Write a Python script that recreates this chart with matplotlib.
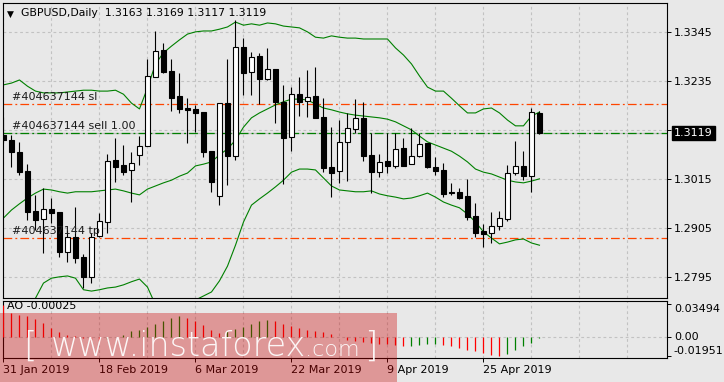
import matplotlib
matplotlib.use('Agg')
import matplotlib.pyplot as plt
from matplotlib.patches import Rectangle
from matplotlib.transforms import blended_transform_factory
import numpy as np

# ---------------- data ----------------
date_labels = ["31 Jan 2019", "18 Feb 2019", "6 Mar 2019", "22 Mar 2019", "9 Apr 2019", "25 Apr 2019"]
date_idx = [0, 12, 24, 36, 48, 60]

opens = [1.3114,1.3103,1.3076,1.3034,1.2944,1.2926,1.2948,1.2942,1.2852,1.2885,
1.2841,1.2796,1.2888,1.2919,1.3058,1.3047,1.3036,1.3070,1.3090,1.3245,
1.3305,1.3258,1.3202,1.3175,1.3173,1.3166,1.3078,1.2978,1.3186,1.3067,
1.3312,1.3256,1.3292,1.3240,1.3263,1.3189,1.3110,1.3206,1.3191,1.3202,
1.3155,1.3043,1.3034,1.3099,1.3128,1.3153,1.3070,1.3031,1.3056,1.3045,
1.3085,1.3049,1.3067,1.3096,1.3043,1.3036,1.2987,1.2987,1.2978,1.2933,
1.2899,1.2894,1.2910,1.2926,1.3029,1.3045,1.3022,1.3163]
highs = [1.3155,1.3114,1.3099,1.3049,1.2980,1.2995,1.2973,1.2942,1.2901,1.2953,
1.2847,1.2894,1.2939,1.3072,1.3108,1.3092,1.3076,1.3112,1.3285,1.3348,
1.3321,1.3285,1.3254,1.3197,1.3182,1.3166,1.3078,1.3186,1.3285,1.3372,
1.3332,1.3301,1.3299,1.3310,1.3263,1.3227,1.3222,1.3245,1.3260,1.3267,
1.3197,1.3132,1.3148,1.3164,1.3195,1.3189,1.3119,1.3072,1.3119,1.3119,
1.3108,1.3130,1.3119,1.3096,1.3065,1.3052,1.3007,1.2995,1.3016,1.2962,
1.2915,1.2942,1.2944,1.3047,1.3101,1.3078,1.3175,1.3169]
lows = [1.3096,1.3043,1.3025,1.2924,1.2901,1.2850,1.2917,1.2841,1.2829,1.2827,
1.2771,1.2782,1.2885,1.2894,1.3009,1.3025,1.2964,1.3047,1.3090,1.3245,
1.3254,1.3168,1.3164,1.3096,1.3121,1.3065,1.2987,1.2957,1.3002,1.3058,
1.3204,1.3204,1.3184,1.3238,1.3141,1.3004,1.3078,1.3157,1.3155,1.3153,
1.3031,1.2975,1.3007,1.3011,1.3119,1.3056,1.2984,1.3020,1.3029,1.3040,
1.3045,1.3049,1.3065,1.3040,1.3025,1.2975,1.2980,1.2971,1.2924,1.2885,
1.2863,1.2872,1.2901,1.2921,1.3025,1.3013,1.2987,1.3117]
closes = [1.3103,1.3076,1.3031,1.2942,1.2924,1.2948,1.2939,1.2852,1.2885,1.2838,
1.2796,1.2885,1.2921,1.3056,1.3043,1.3031,1.3052,1.3090,1.3247,1.3303,
1.3256,1.3197,1.3173,1.3171,1.3164,1.3076,1.3009,1.3186,1.3067,1.3312,
1.3254,1.3290,1.3240,1.3263,1.3189,1.3108,1.3206,1.3189,1.3200,1.3153,
1.3040,1.3029,1.3099,1.3130,1.3153,1.3067,1.3031,1.3054,1.3045,1.3083,
1.3045,1.3067,1.3094,1.3043,1.3034,1.2982,1.2984,1.2973,1.2930,1.2894,
1.2892,1.2910,1.2928,1.3029,1.3045,1.3022,1.3166,1.3119]

bb_upper = [1.3227,1.3231,1.3238,1.3224,1.3213,1.3209,1.3209,1.3209,1.3211,1.3213,
1.3215,1.3215,1.3213,1.3213,1.3215,1.3206,1.3186,1.3173,1.3220,1.3274,
1.3299,1.3314,1.3328,1.3341,1.3346,1.3348,1.3348,1.3352,1.3357,1.3368,
1.3361,1.3364,1.3361,1.3366,1.3364,1.3359,1.3357,1.3355,1.3346,1.3334,
1.3332,1.3337,1.3334,1.3332,1.3332,1.3330,1.3330,1.3330,1.3330,1.3310,
1.3294,1.3274,1.3247,1.3222,1.3213,1.3213,1.3197,1.3180,1.3164,1.3164,
1.3173,1.3175,1.3164,1.3148,1.3135,1.3135,1.3157,1.3166]
bb_middle = [1.2928,1.2946,1.2960,1.2973,1.2984,1.2993,1.2991,1.2987,1.2984,1.2987,
1.2987,1.2987,1.2989,1.2991,1.2993,1.2989,1.2984,1.2980,1.2993,1.3000,
1.3007,1.3013,1.3022,1.3029,1.3045,1.3049,1.3054,1.3070,1.3083,1.3103,
1.3132,1.3153,1.3164,1.3173,1.3182,1.3189,1.3195,1.3195,1.3193,1.3184,
1.3175,1.3171,1.3166,1.3162,1.3159,1.3157,1.3155,1.3153,1.3150,1.3144,
1.3135,1.3126,1.3112,1.3099,1.3092,1.3085,1.3078,1.3067,1.3054,1.3038,
1.3031,1.3027,1.3020,1.3013,1.3009,1.3007,1.3011,1.3016]
bb_lower = [1.2632,1.2661,1.2681,1.2722,1.2748,1.2782,1.2793,1.2796,1.2798,1.2793,
1.2767,1.2764,1.2767,1.2771,1.2773,1.2778,1.2785,1.2791,1.2773,1.2733,
1.2715,1.2713,1.2717,1.2722,1.2744,1.2753,1.2762,1.2787,1.2820,1.2867,
1.2919,1.2957,1.2971,1.2984,1.2998,1.3013,1.3031,1.3038,1.3038,1.3036,
1.3018,1.3000,1.2991,1.2989,1.2987,1.2987,1.2989,1.2982,1.2978,1.2975,
1.2971,1.2973,1.2978,1.2984,1.2975,1.2964,1.2957,1.2951,1.2937,1.2919,
1.2897,1.2883,1.2870,1.2874,1.2879,1.2881,1.2872,1.2867]

ao = [0.0349,0.0259,0.0242,0.0224,0.0195,0.0153,0.0099,0.0057,0.0021,0.0011,
-0.0005,-0.0030,-0.0038,-0.0015,0.0008,0.0028,0.0064,0.0082,0.0107,0.0142,
0.0178,0.0206,0.0224,0.0206,0.0178,0.0135,0.0082,0.0046,0.0064,0.0085,
0.0107,0.0142,0.0170,0.0185,0.0178,0.0142,0.0117,0.0099,0.0075,0.0064,
0.0053,0.0036,0.0005,-0.0025,-0.0043,-0.0050,-0.0064,-0.0068,-0.0076,-0.0080,
-0.0096,-0.0089,-0.0078,-0.0071,-0.0067,-0.0078,-0.0096,-0.0114,-0.0131,-0.0149,
-0.0167,-0.0185,-0.01951,-0.0178,-0.0131,-0.0096,-0.0060,-0.00025]

price_ticks = [1.2795, 1.2905, 1.3015, 1.3125, 1.3235, 1.3345]
price_tick_labels = ["1.2795", "1.2905", "1.3015", "", "1.3235", "1.3345"]
ao_ticks = [0.03494, 0.0, -0.01951]
ao_tick_labels = ["0.03494", "0.00", "-0.01951"]

order_id = "#404637144"
sl_price = 1.3183
entry_price = 1.3119
tp_price = 1.2883
bid_price = 1.3119
title = "GBPUSD,Daily  1.3163 1.3169 1.3117 1.3119"
ao_title = "AO -0.00025"

# ---------------- figure ----------------
W, H = 724, 382
BG = '#e8e8e8'
plt.rcParams['font.family'] = ['DejaVu Sans']
fig = plt.figure(figsize=(W / 100, H / 100), dpi=100, facecolor=BG)

def fx(px):
    return px / W
def fy(py):
    return 1 - py / H

L, R = 3, 667
ax = fig.add_axes([fx(L), fy(297.5), (R - L) / W, (297.5 - 3) / H], facecolor=BG)
ax2 = fig.add_axes([fx(L), fy(358.3), (R - L) / W, (358.3 - 300.5) / H], facecolor=BG)

n = len(opens)
xs = np.arange(n)
xlim = (-0.06, 82.94)

grid_kw = dict(color='#c2c2c2', lw=0.8, ls=(0, (2.5, 2.5)), zorder=0.5)
for k in range(0, 84, 6):
    ax.axvline(k, **grid_kw)
    ax2.axvline(k, **grid_kw)
for p in price_ticks:
    ax.axhline(p, **grid_kw)
ax2.axhline(0, **grid_kw)

# Bollinger bands
for band in (bb_upper, bb_middle, bb_lower):
    ax.plot(xs, band, color='#008000', lw=0.8, zorder=2)

# bid line & order lines
ax.axhline(bid_price, color='#c0c0c0', lw=0.9, zorder=1.5)
dashdot = (0, (7, 2.5, 1.5, 2.5))
ax.axhline(sl_price, color='#ff4500', lw=0.9, ls=dashdot, zorder=1.6)
ax.axhline(tp_price, color='#ff4500', lw=0.9, ls=dashdot, zorder=1.6)
ax.axhline(entry_price, color='#008000', lw=0.9, ls=dashdot, zorder=1.6)

# candles
bw = 0.6
for i in range(n):
    o, h, l, c = opens[i], highs[i], lows[i], closes[i]
    ax.vlines(i, l, h, color='black', lw=0.8, zorder=3)
    bottom = min(o, c)
    height = abs(c - o)
    if height < 0.00005:
        ax.hlines(o, i - bw / 2, i + bw / 2, color='black', lw=0.9, zorder=4)
    else:
        fc = 'white' if c > o else 'black'
        ax.add_patch(Rectangle((i - bw / 2, bottom), bw, height, fc=fc, ec='black',
                               lw=0.8, zorder=4))

ax.set_xlim(*xlim)
ax.set_ylim(1.27496, 1.34108)
ax.set_yticks(price_ticks)
ax.set_yticklabels(price_tick_labels)
ax.yaxis.tick_right()
ax.tick_params(axis='y', direction='out', length=3, width=0.7, labelsize=8, pad=2, colors='black')
ax.tick_params(axis='x', length=0, labelbottom=False)
for s in ax.spines.values():
    s.set_linewidth(0.8)
    s.set_color('black')

# order labels
txt_kw = dict(fontsize=8, color='#1a1a1a', va='bottom', ha='left', zorder=5)
ax.text(1.05, sl_price + 0.00045, f"{order_id} sl", **txt_kw)
ax.text(1.05, entry_price + 0.00045, f"{order_id} sell 1.00", **txt_kw)
ax.text(1.05, tp_price + 0.00045, f"{order_id} tp", **txt_kw)

# title
fig.text(fx(7), fy(16.5), "\u25BC", fontsize=6.5, color='black', va='baseline', ha='left')
fig.text(fx(21), fy(16.5), title, fontsize=7.8, color='black', va='baseline', ha='left')

# price box
trans = blended_transform_factory(ax.transAxes, ax.transData)
ax.text((674 - L) / (R - L), bid_price, f"{bid_price:.4f}", transform=trans, color='white',
        fontsize=8, va='center', ha='left', clip_on=False, zorder=10,
        bbox=dict(boxstyle='square,pad=0.18', fc='black', ec='black'))

# ---------------- AO panel ----------------
ao_colors = ['#ff0000' if (i == 0 or ao[i] <= ao[i - 1]) else '#008000' for i in range(n)]
ax2.vlines(xs, 0, ao, colors=ao_colors, lw=0.9, zorder=3)
ax2.set_xlim(*xlim)
ax2.set_ylim(-0.02237, 0.0392)
ax2.set_yticks(ao_ticks)
ax2.set_yticklabels(ao_tick_labels)
ax2.yaxis.tick_right()
ax2.tick_params(axis='y', direction='out', length=3, width=0.7, labelsize=8, pad=2, colors='black')
for t, va in zip(ax2.yaxis.get_major_ticks(), ['top', 'center', 'bottom']):
    t.label2.set_va(va)
ax2.set_xticks(date_idx)
ax2.set_xticklabels(date_labels)
ax2.tick_params(axis='x', direction='out', length=3, width=0.7, labelsize=8, pad=2, colors='black')
for lbl in ax2.get_xticklabels():
    lbl.set_ha('left')
for s in ax2.spines.values():
    s.set_linewidth(0.8)
    s.set_color('black')
ax2.text(0.5, 0.0392 - 0.0009, ao_title, fontsize=8, color='black', va='top', ha='left', zorder=5)

# ---------------- watermark ----------------
fig.add_artist(Rectangle((0, 0), fx(397), 1 - (313 / H), transform=fig.transFigure,
                         fc=(0.8, 0.0, 0.0), ec='none', alpha=0.35, zorder=20))
wm_kw = dict(color='white', alpha=0.92, va='baseline', ha='left', fontweight='light', zorder=21)
fig.text(fx(23), fy(357), "[", fontsize=25, **wm_kw)
fig.text(fx(51), fy(356), "www.instaforex", fontsize=24, **wm_kw)
fig.text(fx(305), fy(356), ".com", fontsize=16, **wm_kw)
fig.text(fx(364), fy(357), "]", fontsize=25, **wm_kw)

fig.savefig('out.png', dpi=100, facecolor=BG)
